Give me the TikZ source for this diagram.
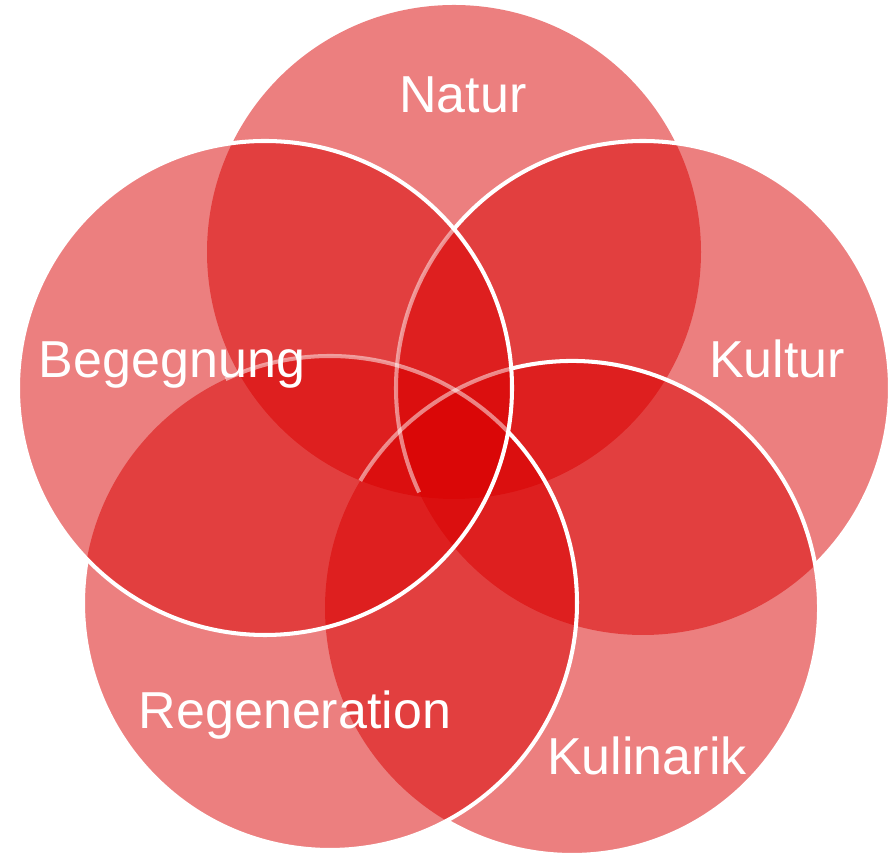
\documentclass[tikz,border=0pt]{standalone}
\usepackage{fontspec}
\setmainfont{Liberation Sans}
\usepackage{tikz}
\definecolor{vennred}{RGB}{217,0,0}

\begin{document}
\begin{tikzpicture}[x=0.02cm,y=0.02cm,
  ring/.style={fill=vennred,fill opacity=0.5},
  rim/.style={draw=white,line width=2.3pt},
  faint/.style={rim,draw opacity=0.5},
  lbl/.style={text=white,anchor=base,font=\fontsize{29.6}{35}\selectfont}]
  \useasboundingbox (0,0) rectangle (893,858);
  \coordinate (N) at (454,606); %Natur
  \coordinate (K) at (643,470); %Kultur
  \coordinate (L) at (572,250); %Kulinarik
  \coordinate (R) at (330,255); %Regeneration
  \coordinate (B) at (265,470); %Begegnung
  \foreach \P in {N,K,L,R,B} \fill[ring] (\P) circle (247);
  \draw[faint] (K) ++(139.9:247) arc[start angle=139.9,end angle=205,radius=247];
  \draw[faint] (L) ++(104.3:247) arc[start angle=104.3,end angle=149,radius=247];
  \draw[faint] (R) ++(43.9:247) arc[start angle=43.9,end angle=115,radius=247];
  \draw[rim] (K) ++(139.9:247) arc[start angle=139.9,end angle=-45.8,radius=247];
  \draw[rim] (L) ++(104.3:247) arc[start angle=104.3,end angle=-120.5,radius=247];
  \draw[rim] (R) ++(43.9:247) arc[start angle=43.9,end angle=-190.3,radius=247];
  \draw[rim] (B) circle (247);
  \node[lbl] (natur) at (463,745) {Natur};
  \node[lbl] (kultur) at (777,480) {Kultur};
  \node[lbl] (kulinarik) at (647,83) {Kulinarik};
  \node[lbl] (regeneration) at (295,129) {Regeneration};
  \node[lbl] (begegnung) at (172,480) {Begegnung};
\end{tikzpicture}
\end{document}
